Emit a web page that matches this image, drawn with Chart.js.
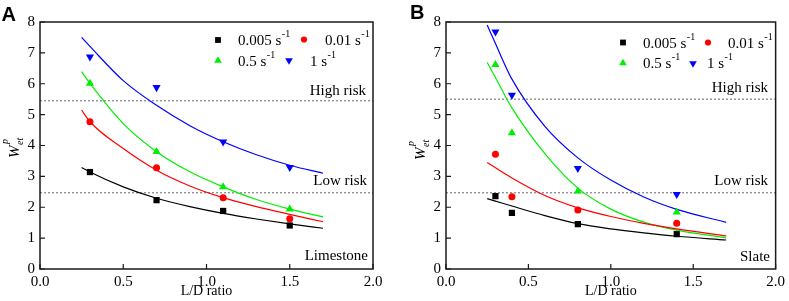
<!DOCTYPE html>
<html><head><meta charset="utf-8">
<script src="https://cdn.jsdelivr.net/npm/chart.js@4/dist/chart.umd.min.js"></script>
<style>
html,body{margin:0;padding:0;background:#fff;width:789px;height:301px;overflow:hidden}
#wa{position:absolute;left:0;top:0;width:395px;height:301px}
#wb{position:absolute;left:395px;top:0;width:394px;height:301px}
.fl{position:absolute;left:-999px;top:0;font-size:15px}
</style></head><body>
<span class="fl" style="font-family:'Liberation Serif'">0.5 High</span>
<span class="fl" style="font-family:'Liberation Serif';font-style:italic">W et p</span>
<span class="fl" style="font-family:'Liberation Sans';font-weight:bold">AB</span>
<div id="wa"><canvas id="ca" width="395" height="301"></canvas></div>
<div id="wb"><canvas id="cb" width="394" height="301"></canvas></div>
<script>
// ---- data ----
const rateLabels = ['0.005 s', '0.01 s', '0.5 s', '1 s'];
const xTicks = [0, 0.5, 1.0, 1.5, 2.0];
const yTicks = [0, 1, 2, 3, 4, 5, 6, 7, 8];

// Panel A (Limestone) measured points
const ldA = [0.3, 0.7, 1.1, 1.5];
const limestone005 = [3.14, 2.23, 1.88, 1.41];
const limestone01  = [4.77, 3.28, 2.31, 1.63];
const limestone05  = [6.01, 3.80, 2.66, 1.94];
const limestone1   = [6.87, 5.88, 4.12, 3.29];
// Panel A fitted curves
const fitXA = [0.25, 0.3, 0.5, 0.7, 0.9, 1.1, 1.3, 1.5, 1.7];
const fitLime005 = [3.29, 3.14, 2.66, 2.29, 2.02, 1.80, 1.62, 1.46, 1.32];
const fitLime01  = [5.15, 4.77, 3.90, 3.20, 2.69, 2.31, 2.02, 1.77, 1.53];
const fitLime05  = [6.39, 6.01, 4.71, 3.80, 3.15, 2.66, 2.25, 1.94, 1.69];
const fitLime1   = [7.50, 7.21, 6.10, 5.30, 4.64, 4.12, 3.70, 3.36, 3.10];

// Panel B (Slate) measured points
const ldB = [0.3, 0.4, 0.8, 1.4];
const slate005 = [2.36, 1.82, 1.45, 1.13];
const slate01  = [3.72, 2.34, 1.91, 1.48];
const slate05  = [6.62, 4.41, 2.52, 1.84];
const slate1   = [7.68, 5.63, 3.26, 2.42];
// Panel B fitted curves
const fitXB = [0.25, 0.3, 0.4, 0.6, 0.8, 1.0, 1.2, 1.4, 1.7];
const fitSlate005 = [2.28, 2.20, 2.04, 1.73, 1.47, 1.30, 1.17, 1.06, 0.94];
const fitSlate01  = [3.45, 3.28, 2.95, 2.38, 1.98, 1.70, 1.48, 1.30, 1.07];
const fitSlate05  = [6.69, 6.20, 5.22, 3.74, 2.62, 1.94, 1.52, 1.26, 1.01];
const fitSlate1   = [7.90, 7.30, 6.15, 4.62, 3.60, 2.88, 2.33, 1.93, 1.51];

// risk thresholds
const riskA = [5.45, 2.47];
const riskB = [5.50, 2.47];

// ---- styles ----
const SERIF = '"Liberation Serif", serif';
const colors = ['#000000', '#ff0000', '#00ee00', '#0000ff'];
const pStyles = ['rect', 'circle', 'triangle', 'triangle'];
const pRadius = [4.4, 3.5, 4.7, 4.7];
const pRot = [0, 0, 0, 180];

function pts(xs, ys) { return xs.map((x, i) => ({x: x, y: ys[i]})); }

function buildDatasets(ld, marks, fitX, fits, risk) {
  const ds = [];
  marks.forEach((m, i) => ds.push({
    data: pts(ld, m), showLine: false, backgroundColor: colors[i], borderColor: colors[i],
    borderWidth: 0, pointStyle: pStyles[i], pointRadius: pRadius[i], rotation: pRot[i], order: 0
  }));
  fits.forEach((f, i) => ds.push({
    data: pts(fitX, f), showLine: true, borderColor: colors[i], borderWidth: 1.2,
    pointRadius: 0, cubicInterpolationMode: 'monotone', fill: false, order: 1
  }));
  risk.forEach(v => ds.push({
    data: [{x: 0, y: v}, {x: 2, y: v}], showLine: true, borderColor: '#8a8a8a', borderWidth: 1.3,
    borderDash: [2, 2], pointRadius: 0, fill: false, order: 2
  }));
  return ds;
}

function drawMarker(ctx, kind, x, y, color) {
  ctx.fillStyle = color;
  ctx.beginPath();
  if (kind === 'rect') { ctx.rect(x - 2.9, y - 2.9, 5.8, 5.8); }
  else if (kind === 'circle') { ctx.arc(x, y, 3.1, 0, Math.PI * 2); }
  else if (kind === 'up') { ctx.moveTo(x, y - 4.2); ctx.lineTo(x + 3.8, y + 2.3); ctx.lineTo(x - 3.8, y + 2.3); ctx.closePath(); }
  else { ctx.moveTo(x, y + 4.2); ctx.lineTo(x + 3.8, y - 2.3); ctx.lineTo(x - 3.8, y - 2.3); ctx.closePath(); }
  ctx.fill();
}

function panelPlugin(p) {
  return {
    id: 'panel' + p.letter,
    afterDraw(chart) {
      const ctx = chart.ctx, a = chart.chartArea, sx = chart.scales.x, sy = chart.scales.y;
      ctx.save();
      // frame
      ctx.strokeStyle = '#1a1a1a'; ctx.lineWidth = 1.5;
      ctx.strokeRect(a.left, a.top, a.right - a.left, a.bottom - a.top);
      // inward ticks
      ctx.beginPath();
      xTicks.forEach(v => { const px = sx.getPixelForValue(v); ctx.moveTo(px, a.bottom); ctx.lineTo(px, a.bottom - 5); });
      yTicks.forEach(v => { const py = sy.getPixelForValue(v); ctx.moveTo(a.left, py); ctx.lineTo(a.left + 5, py); });
      ctx.lineWidth = 1.2; ctx.stroke();
      // annotations
      ctx.fillStyle = '#000'; ctx.font = '15px ' + SERIF; ctx.textAlign = 'right'; ctx.textBaseline = 'alphabetic';
      p.notes.forEach(n => ctx.fillText(n.t, n.x, n.y));
      // legend
      p.legend.forEach(it => {
        drawMarker(ctx, it.k, it.mx, it.my, colors[it.i]);
        ctx.fillStyle = '#000'; ctx.textAlign = 'left';
        ctx.font = '15px ' + SERIF;
        ctx.fillText(rateLabels[it.i], it.tx, it.ty);
        const tw = ctx.measureText(rateLabels[it.i]).width;
        ctx.font = '10px ' + SERIF;
        ctx.fillText('-1', it.tx + tw + 0.5, it.ty - 8);
      });
      // y title W_et^p
      ctx.save();
      ctx.translate(p.wx, p.wy); ctx.rotate(-Math.PI / 2);
      ctx.textAlign = 'left';
      ctx.font = 'italic 15px ' + SERIF;
      ctx.fillText('W', 0, 0);
      const w = ctx.measureText('W').width;
      ctx.font = 'italic 10px ' + SERIF;
      ctx.fillText('et', w + 0.5, 4);
      ctx.fillText('p', w + 1.5, -11);
      ctx.restore();
      // panel letter
      ctx.font = 'bold 20px "Liberation Sans", sans-serif';
      ctx.textAlign = 'left';
      ctx.fillText(p.letter, p.lx, p.ly);
      ctx.restore();
    }
  };
}

function makeChart(id, datasets, p) {
  return new Chart(document.getElementById(id), {
    type: 'scatter',
    data: { datasets: datasets },
    options: {
      responsive: false, animation: false, devicePixelRatio: 1,
      layout: { padding: { top: 22, right: p.padR, left: 0, bottom: 0 } },
      plugins: { legend: { display: false }, tooltip: { enabled: false } },
      scales: {
        x: {
          type: 'linear', min: 0, max: 2,
          afterBuildTicks: s => { s.ticks = xTicks.map(v => ({value: v})); },
          ticks: { color: '#000', font: { family: SERIF, size: 15 }, padding: 4, maxRotation: 0, autoSkip: false,
                   callback: v => Number(v).toFixed(1) },
          grid: { display: false, drawTicks: false },
          border: { display: false },
          title: { display: true, text: 'L/D ratio', color: '#000', font: { family: SERIF, size: 14 }, padding: { top: 0, bottom: 1 } },
          afterFit: s => { s.height = 32; }
        },
        y: {
          type: 'linear', min: 0, max: 8,
          afterBuildTicks: s => { s.ticks = yTicks.map(v => ({value: v})); },
          ticks: { color: '#000', font: { family: SERIF, size: 15 }, padding: 5, callback: v => String(v) },
          grid: { display: false, drawTicks: false },
          border: { display: false },
          afterFit: s => { s.width = p.W; }
        }
      }
    },
    plugins: [panelPlugin(p)]
  });
}

let built = false;
function build() {
  if (built) return; built = true;
  Chart.defaults.font.family = SERIF;
  makeChart('ca',
    buildDatasets(ldA, [limestone005, limestone01, limestone05, limestone1], fitXA,
                  [fitLime005, fitLime01, fitLime05, fitLime1], riskA),
    { letter: 'A', W: 40, padR: 22, lx: 1.5, ly: 20.5, wx: 19, wy: 158,
      notes: [{t: 'High risk', x: 366, y: 95}, {t: 'Low risk', x: 367, y: 185}, {t: 'Limestone', x: 368, y: 260}],
      legend: [
        {i: 0, k: 'rect', mx: 218, my: 40, tx: 238, ty: 45},
        {i: 1, k: 'circle', mx: 304, my: 39.5, tx: 325, ty: 45},
        {i: 2, k: 'up', mx: 218, my: 60.5, tx: 238, ty: 65.5},
        {i: 3, k: 'down', mx: 289, my: 60.5, tx: 310, ty: 65.5}
      ] });
  makeChart('cb',
    buildDatasets(ldB, [slate005, slate01, slate05, slate1], fitXB,
                  [fitSlate005, fitSlate01, fitSlate05, fitSlate1], riskB),
    { letter: 'B', W: 51, padR: 10, lx: 15, ly: 18.5, wx: 30, wy: 160,
      notes: [{t: 'High risk', x: 373, y: 92}, {t: 'Low risk', x: 373, y: 185}, {t: 'Slate', x: 375, y: 261}],
      legend: [
        {i: 0, k: 'rect', mx: 228, my: 42.5, tx: 248, ty: 47.5},
        {i: 1, k: 'circle', mx: 313, my: 42.5, tx: 333, ty: 47.5},
        {i: 2, k: 'up', mx: 228, my: 63, tx: 248, ty: 68},
        {i: 3, k: 'down', mx: 298, my: 63.5, tx: 312, ty: 68}
      ] });
}

if (document.fonts && document.fonts.load) {
  Promise.all([
    document.fonts.load('15px "Liberation Serif"'),
    document.fonts.load('italic 15px "Liberation Serif"'),
    document.fonts.load('bold 20px "Liberation Sans"')
  ]).then(build, build);
  setTimeout(build, 1500);
} else {
  build();
}
</script>
</body></html>
